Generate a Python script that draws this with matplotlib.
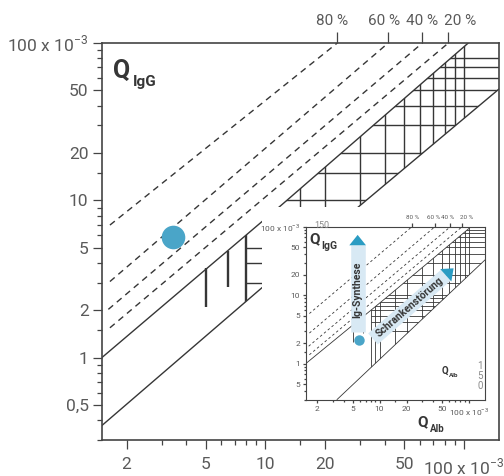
import matplotlib
matplotlib.use("Agg")
import matplotlib.pyplot as plt
from matplotlib.patches import Polygon
from matplotlib.ticker import FixedLocator, NullLocator, NullFormatter
from matplotlib.transforms import blended_transform_factory

plt.rcParams['font.family'] = ['Roboto', 'DejaVu Sans']
plt.rcParams['mathtext.fontset'] = 'custom'
plt.rcParams['mathtext.rm'] = 'Roboto'
plt.rcParams['mathtext.bf'] = 'Roboto:bold'

# all values in units of 10^-3 (Q_Alb on x, Q_IgG on y)
upper_x = [1.5, 12, 105]
upper_y = [1.0, 9.3, 100]
lower_x = [1.5, 9.4, 150]
lower_y = [0.37, 2.72, 51]

frac_labels = ['80 %', '60 %', '40 %', '20 %']
frac_start_x = [1.65, 1.65, 1.62, 1.65]
frac_start_y = [6.97, 3.05, 2.03, 1.55]
frac_end_x = [23, 41.5, 61.7, 83.4]
frac_end_y = [100, 100, 100, 100]
frac_label_x = [21.7, 39.6, 61.6, 96]

age_x = [5.0, 6.5]
age_top = [3.7, 4.8]
age_bottom = [2.1, 2.8]
qalb_limit = 8.0

grid_x = [10, 15, 20, 30, 40, 50, 60, 70, 80, 90, 100]
grid_y = [3, 4, 5, 10, 15, 20, 30, 40, 50, 60, 70, 80]

patient_x = [3.43]
patient_y = [5.85]

# small picture
inset_lower_x = [3.36, 150]
inset_lower_y = [0.3, 32.7]
inset_frac_start_y = [5.4, 2.8, 1.8, 1.35]
inset_frac_label_x = [23.1, 39.6, 56.9, 92.5]
inset_grid_x = [9, 10, 15, 20, 30, 40, 50, 60, 70, 80, 90, 100]
inset_grid_y = [3, 4, 5, 6, 7, 8, 9, 10, 15, 20, 30, 40, 50, 60, 70, 80, 90]
inset_patient_x = [5.9]
inset_patient_y = [2.23]
ig_arrow_x = [5.7, 5.7, 5.7]
ig_arrow_y = [2.9, 54, 76]
schr_arrow_x = [8.45, 55.5, 67]
schr_arrow_y = [2.3, 19.8, 24.7]

y_ticks = [0.5, 1, 2, 5, 10, 20, 50, 100]
y_labels = ['0,5', '1', '2', '5', '10', '20', '50', '100 x 10$^{-3}$']
y_minor = [0.3, 0.4, 0.6, 0.7, 0.8, 0.9, 1.5, 3, 4, 6, 7, 8, 9, 15, 30, 40, 60, 70, 80, 90]
x_ticks = [2, 5, 10, 20, 50, 100]
x_labels = ['2', '5', '10', '20', '50', '100 x 10$^{-3}$']
x_minor = [3, 4, 6, 7, 8, 9, 15, 30, 40, 60, 70, 80, 90]

ink = '#363636'
grey = '#5a5a5a'
blue = '#4aa5c8'
head_blue = '#2b9cc3'
pale = '#d8e9f4'


def diagram(ax, low_x, low_y, start_y, gx, gy, lw, dash, limit_lw):
    ax.set_xscale('log')
    ax.set_yscale('log')
    ax.set_xlim(1.5, 150)
    ax.set_ylim(0.3, 100)
    ax.plot(upper_x, upper_y, color=ink, lw=lw)
    ax.plot(low_x, low_y, color=ink, lw=lw)
    for sx, sy, ex, ey in zip(frac_start_x, start_y, frac_end_x, frac_end_y):
        ax.plot([sx, ex], [sy, ey], color=ink, lw=lw, dashes=dash)
    pts = list(zip(upper_x, upper_y)) + [(150, 100)] + list(zip(low_x, low_y))[::-1]
    band = Polygon(pts, closed=True, transform=ax.transData)
    v = ax.vlines(gx, 0.3, 100, color=ink, lw=lw)
    h = ax.hlines(gy, qalb_limit, 150, color=ink, lw=lw)
    lim = ax.vlines([qalb_limit], 0.3, 100, color=ink, lw=limit_lw)
    for c in (v, h, lim):
        c.set_clip_path(band)
    ax.vlines(age_x, age_bottom, age_top, color=ink, lw=limit_lw)


def ticks(ax, size, maj, mino, pad, ylabels, xpad):
    ax.yaxis.set_major_locator(FixedLocator(y_ticks))
    ax.yaxis.set_minor_locator(FixedLocator(y_minor))
    ax.xaxis.set_major_locator(FixedLocator(x_ticks))
    ax.xaxis.set_minor_locator(FixedLocator(x_minor))
    ax.set_yticklabels(ylabels)
    ax.set_xticklabels(x_labels)
    ax.yaxis.set_minor_formatter(NullFormatter())
    ax.xaxis.set_minor_formatter(NullFormatter())
    ax.tick_params(which='major', length=maj, width=0.9, color='#444444',
                   labelsize=size, labelcolor=grey, pad=pad)
    ax.tick_params(axis='x', which='major', pad=xpad)
    ax.tick_params(which='minor', length=mino, width=0.9, color='#444444')


def top_axis(ax, label_x, size, length, label_y):
    sec = ax.secondary_xaxis('top')
    sec.xaxis.set_major_locator(FixedLocator(frac_end_x))
    sec.xaxis.set_minor_locator(NullLocator())
    sec.xaxis.set_major_formatter(NullFormatter())
    sec.tick_params(length=length, width=0.9, color='#444444')
    for s in sec.spines.values():
        s.set_visible(False)
    tr = blended_transform_factory(ax.transData, ax.transAxes)
    for x, lab in zip(label_x, frac_labels):
        ax.text(x, label_y, lab, transform=tr, ha='center', va='center',
                fontsize=size, color=grey, clip_on=False)


fig = plt.figure(figsize=(5.04, 4.76), dpi=100)

ax = fig.add_axes([0.2018, 0.0756, 0.7883, 0.834])
diagram(ax, lower_x, lower_y, frac_start_y, grid_x, grid_y, 1.0, (4.5, 3.5), 1.7)
ax.plot(patient_x, patient_y, 'o', ms=17, color=blue, mec='none', zorder=5)
ticks(ax, 12.5, 6.5, 3.5, 3, y_labels, 5.5)
top_axis(ax, frac_label_x, 11, 8, 1.055)
for s in ax.spines.values():
    s.set_color('#444444')
    s.set_linewidth(1.2)
    s.set_zorder(30)
# white paper of the small picture
ax.add_patch(plt.Rectangle((0.4035, 0), 0.6, 0.587, transform=ax.transAxes,
                           facecolor='white', edgecolor='none', zorder=20))

fig.text(0.2242, 0.836, 'Q', fontsize=18, fontweight='bold', color=ink)
fig.text(0.263, 0.819, 'IgG', fontsize=11, fontweight='bold', color=ink)

# small picture
ins = fig.add_axes([0.6065, 0.1607, 0.3557, 0.363])
diagram(ins, inset_lower_x, inset_lower_y, inset_frac_start_y, inset_grid_x,
        inset_grid_y, 0.6, (3, 3), 0.6)
ticks(ins, 6, 2.5, 1.5, 1.5, ['5'] + y_labels[1:], 2.5)
top_axis(ins, inset_frac_label_x, 4.5, 3, 1.056)
for s in ins.spines.values():
    s.set_color('#444444')
    s.set_linewidth(0.8)

ins.plot(ig_arrow_x[:2], ig_arrow_y[:2], lw=10.5, color=pale,
         solid_capstyle='butt', zorder=6)
ins.annotate('', xy=(ig_arrow_x[2], ig_arrow_y[2]), xytext=(ig_arrow_x[1], ig_arrow_y[1]),
             arrowprops=dict(arrowstyle='-|>,head_length=0.75,head_width=0.6',
                             color=head_blue, lw=0, shrinkA=0, shrinkB=0,
                             mutation_scale=10), zorder=7)
ins.plot(schr_arrow_x[:2], schr_arrow_y[:2], lw=10.5, color=pale,
         solid_capstyle='butt', zorder=6)
ins.annotate('', xy=(schr_arrow_x[2], schr_arrow_y[2]), xytext=(schr_arrow_x[1], schr_arrow_y[1]),
             arrowprops=dict(arrowstyle='-|>,head_length=0.75,head_width=0.6',
                             color=head_blue, lw=0, shrinkA=0, shrinkB=0,
                             mutation_scale=10), zorder=7)
ins.text(5.7, 11.9, 'Ig-Synthese', rotation=90, ha='center', va='center',
         fontsize=7.5, fontweight='bold', color=ink, zorder=8)
ins.text(21.7, 6.76, 'Schrankenstörung', rotation=41, ha='center', va='center',
         rotation_mode='anchor', fontsize=7.5, fontweight='bold', color=ink, zorder=8)
ins.plot(inset_patient_x, inset_patient_y, 'o', ms=7.5, color=blue, mec='none', zorder=8)

fig.text(0.614, 0.4895, 'Q', fontsize=11, fontweight='bold', color=ink)
fig.text(0.638, 0.477, 'IgG', fontsize=7.5, fontweight='bold', color=ink)
fig.text(0.829, 0.105, 'Q', fontsize=11, fontweight='bold', color=ink)
fig.text(0.853, 0.0924, 'Alb', fontsize=7, fontweight='bold', color=ink)
fig.text(0.877, 0.2143, 'Q', fontsize=7, fontweight='bold', color=ink)
fig.text(0.891, 0.208, 'Alb', fontsize=4.5, fontweight='bold', color=ink)
fig.text(0.639, 0.527, '150', fontsize=6.5, color='#888888', ha='center', va='center')
fig.text(0.952, 0.21, '1\n5\n0', fontsize=7, color='#888888', ha='center', va='center',
         linespacing=0.95)

fig.savefig('out.png', dpi=100)
